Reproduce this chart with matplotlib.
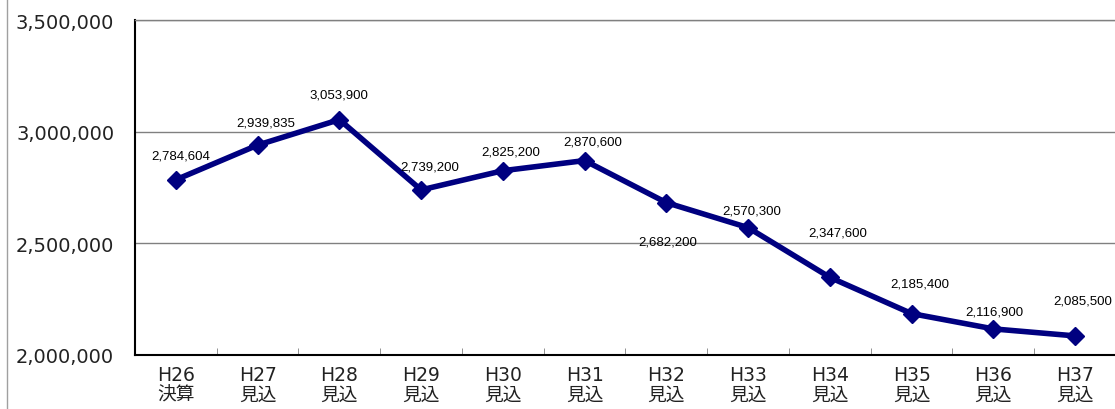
import matplotlib.pyplot as plt
from matplotlib.lines import Line2D
from matplotlib.ticker import FuncFormatter, FixedLocator

plt.rcParams['font.family'] = ['DejaVu Sans', 'Noto Sans CJK JP']

# data
years = ['H26', 'H27', 'H28', 'H29', 'H30', 'H31', 'H32', 'H33', 'H34', 'H35', 'H36', 'H37']
kinds = ['決算'] + ['見込'] * 11
values = [2784604, 2939835, 3053900, 2739200, 2825200, 2870600,
          2682200, 2570300, 2347600, 2185400, 2116900, 2085500]
# label offsets in pixels (dx, dy) from each point
label_offsets = [(5, 24), (8, 23), (0, 25), (9, 23), (8, 19), (8, 19),
                 (1, -39), (4, 17), (8, 45), (8, 30), (1, 17), (8, 35)]

fig = plt.figure(figsize=(11.15, 4.10), dpi=100)
ax = fig.add_axes([135 / 1115, 54 / 410, 981 / 1115, 335 / 410])

x = list(range(len(years)))
ax.plot(x, values, color='#000080', linewidth=4, marker='D', markersize=9,
        markerfacecolor='#000080', markeredgecolor='#000080', zorder=3)

for xi, v, (dx, dy) in zip(x, values, label_offsets):
    ax.annotate(f'{v:,}', (xi, v), xytext=(dx, dy), textcoords='offset pixels',
                ha='center', va='center', fontsize=9.5, color='#000000',
                family=['Liberation Sans', 'DejaVu Sans'])

ax.set_xlim(-0.5, len(years) - 0.5)
ax.set_ylim(2000000, 3500000)
ax.set_yticks([2000000, 2500000, 3000000, 3500000])
ax.yaxis.set_major_formatter(FuncFormatter(lambda v, p: f'{int(v):,}'))
ax.yaxis.grid(True, color='#808080', linewidth=1)
ax.set_axisbelow(True)
ax.tick_params(axis='y', length=0, pad=15, labelsize=14, labelcolor='#222222')

ax.set_xticks(x)
ax.set_xticklabels([f'{y}\n{k}' for y, k in zip(years, kinds)], fontsize=13.5, linespacing=1.05)
ax.tick_params(axis='x', length=0, pad=7, labelcolor='#222222')
ax.xaxis.set_minor_locator(FixedLocator([i + 0.5 for i in range(len(years) - 1)]))
ax.tick_params(axis='x', which='minor', length=5, direction='in', color='#808080')

ax.spines['left'].set_color('#000000')
ax.spines['left'].set_linewidth(1.5)
ax.spines['bottom'].set_color('#000000')
ax.spines['bottom'].set_linewidth(1.5)
ax.spines['top'].set_color('#808080')
ax.spines['top'].set_linewidth(1)
ax.spines['right'].set_visible(False)

fig.add_artist(Line2D([7 / 1115, 7 / 1115], [0, 1], color='#a0a0a0', linewidth=1))

fig.savefig('out.png', dpi=100)
